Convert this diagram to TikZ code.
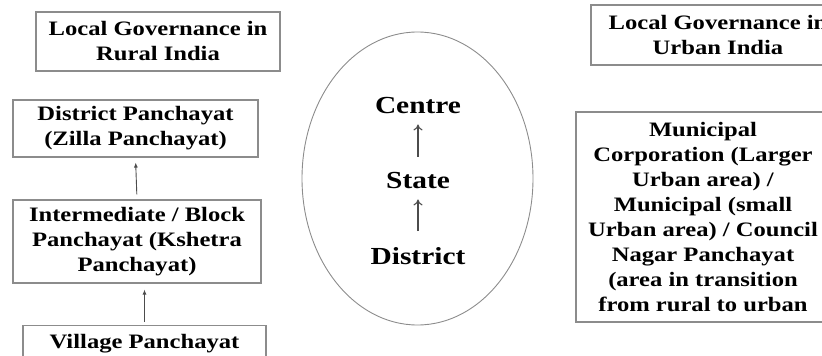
\documentclass[tikz,border=0pt]{standalone}
\usepackage{fontspec}
\setmainfont{Liberation Serif}[FakeStretch=1.2]
\usepackage{tikz}
\usetikzlibrary{arrows.meta}

\tikzset{
  levelbox/.style={draw=gray!90, line width=1.1pt, align=center, inner sep=2pt,
    font=\fontsize{20.5}{25}\selectfont\bfseries},
  tierlabel/.style={font=\fontsize{24.5}{28}\selectfont\bfseries, inner sep=2pt},
  uparrow/.style={draw=black!70, line width=0.9pt, -{Latex[length=5pt,width=4pt]}},
  thinup/.style={draw=black!70, line width=1.1pt, -{To[length=6pt,width=9pt]}}
}

\begin{document}
\begin{tikzpicture}[x=1pt,y=-1pt]
\useasboundingbox (0,0) rectangle (822,356);
\clip (0,0) rectangle (822,356);
% rural side
\node[levelbox, minimum width=244pt, minimum height=59pt] (rural) at (158,41.5) {Local Governance in\\Rural India};
\node[levelbox, minimum width=245pt, minimum height=57pt] (district) at (135.5,128.5) {District Panchayat\\(Zilla Panchayat)};
\node[levelbox, minimum width=248pt, minimum height=83pt] (block) at (137,241.5) {Intermediate / Block\\Panchayat (Kshetra\\Panchayat)};
\node[levelbox, minimum width=243pt, inner ysep=9pt, anchor=north] (village) at (144.5,325) {Village Panchayat};
\draw[uparrow, shorten <=5pt, shorten >=5pt] (block.north) -- (district.south);
\draw[uparrow, shorten <=3pt, shorten >=6pt] (village.north) -- (village.north |- block.south);
% middle ellipse
\draw[gray!90, line width=0.9pt] (417.5,178.5) ellipse [x radius=115.5, y radius=146.5];
\node[tierlabel] (centre) at (418,106) {Centre};
\node[tierlabel] (state) at (418,181) {State};
\node[tierlabel] (dist) at (418,256) {District};
\draw[thinup, shorten <=14pt, shorten >=8pt] (state) -- (centre);
\draw[thinup, shorten <=14pt, shorten >=8pt] (dist) -- (state);
% urban side
\node[levelbox, minimum width=254pt, minimum height=60pt] (urban) at (718,35) {Local Governance in\\Urban India};
\node[levelbox, minimum width=254pt, minimum height=210pt] (municipal) at (703,217) {Municipal\\Corporation (Larger\\Urban area) /\\Municipal (small\\Urban area) / Council\\Nagar Panchayat\\(area in transition\\from rural to urban};
\end{tikzpicture}
\end{document}
